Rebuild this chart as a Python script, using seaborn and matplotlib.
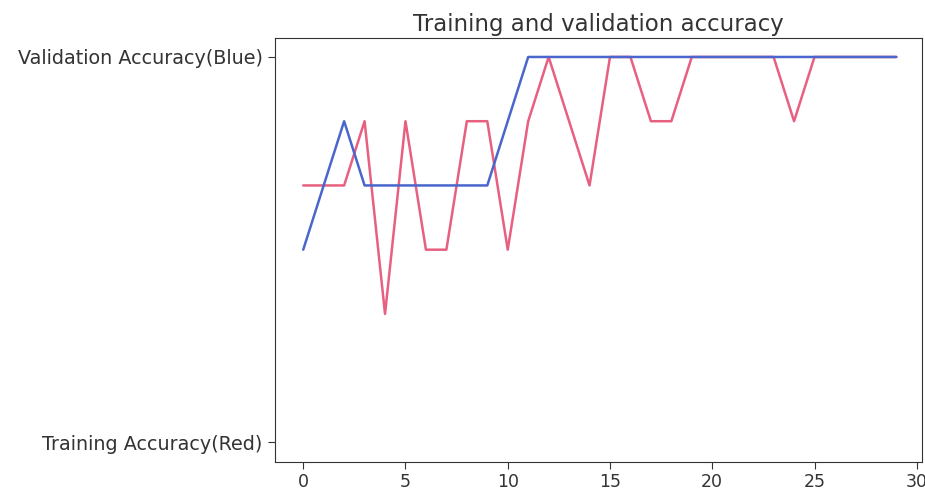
import matplotlib
matplotlib.use("Agg")
import matplotlib.pyplot as plt
import seaborn as sns
import pandas as pd

sns.set_style("ticks")
plt.rcParams["font.family"] = ["DejaVu Sans"]

# Epoch index and accuracy levels (0 = lowest level on the axis, 6 = highest)
epochs = list(range(30))
train_acc = [4, 4, 4, 5, 2, 5, 3, 3, 5, 5, 3, 5, 6, 5, 4, 6, 6, 5, 5, 6,
             6, 6, 6, 6, 5, 6, 6, 6, 6, 6]
val_acc = [3, 4, 5, 4, 4, 4, 4, 4, 4, 4, 5, 6, 6, 6, 6, 6, 6, 6, 6, 6,
           6, 6, 6, 6, 6, 6, 6, 6, 6, 6]
y_tick_pos = [0, 6]
y_tick_labels = ["Training Accuracy(Red)", "Validation Accuracy(Blue)"]
x_ticks = [0, 5, 10, 15, 20, 25, 30]

df = pd.DataFrame({"epoch": epochs, "train": train_acc, "val": val_acc})

fig = plt.figure(figsize=(9.25, 4.96), dpi=100)
ax = fig.add_axes([0.2973, 0.0692, 0.6991, 0.8548])

sns.lineplot(data=df, x="epoch", y="train", ax=ax, color="#e8607f",
             linewidth=1.8, zorder=2)
sns.lineplot(data=df, x="epoch", y="val", ax=ax, color="#4a66cc",
             linewidth=1.8, zorder=3)

ax.set_xlim(-1.38, 30.24)
ax.set_ylim(-0.3, 6.3)
ax.set_xticks(x_ticks)
ax.set_yticks(y_tick_pos)
ax.set_yticklabels(y_tick_labels)
ax.set_xlabel("")
ax.set_ylabel("")
ax.tick_params(axis="y", labelsize=13.8, colors="#333333", length=5, pad=4)
ax.tick_params(axis="x", labelsize=12.5, colors="#333333", length=5)
for s in ax.spines.values():
    s.set_color("#333333")
ax.set_title("Training and validation accuracy", fontsize=16.5, color="#333333", pad=5)

fig.savefig("out.png", dpi=100)
